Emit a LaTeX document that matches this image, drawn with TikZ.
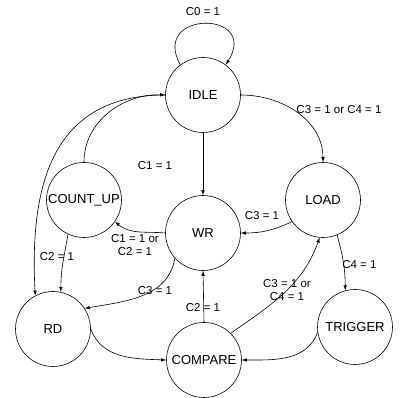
\documentclass[tikz,border=0pt]{standalone}
\usepackage{fontspec}
\setmainfont{Liberation Sans}
\usetikzlibrary{arrows.meta}

\begin{document}
\begin{tikzpicture}[x = 1pt, y = 1pt, line width = 0.6pt, >={Latex[length = 5pt, width = 3.5pt]},
		fsm/.style = {draw, circle, minimum size = 75pt, inner sep = 0pt, font = \fontsize{13}{15}\selectfont},
		lbl/.style = {inner sep = 1pt, font = \fontsize{11.5}{13.5}\selectfont, align = center}]
	
		\useasboundingbox (0, 0) rectangle (400, -398);
		
		\node[fsm] (idle) at (203, -95) {IDLE};
		\node[fsm] (countup) at (84, -200) {COUNT\_UP};
		\node[fsm] (wr) at (203, -233) {WR};
		\node[fsm] (load) at (323, -200) {LOAD};
		\node[fsm] (rd) at (53, -329) {RD};
		\node[fsm] (compare) at (204, -360) {COMPARE};
		\node[fsm] (trigger) at (355, -327) {TRIGGER};
		
		\node[lbl] (c0) at (203, -12) {C0 = 1};
		\node[lbl] (c1) at (155, -166) {C1 = 1};
		\node[lbl] (c3c4a) at (339, -110) {C3 = 1 or C4 = 1};
		\node[lbl] (c1c2) at (135, -245) {C1 = 1 or\\C2 = 1};
		\node[lbl] (c3a) at (262, -216) {C3 = 1};
		\node[lbl] (c2a) at (57, -257) {C2 = 1};
		\node[lbl] (c3b) at (155, -291) {C3 = 1};
		\node[lbl] (c2b) at (203, -308) {C2 = 1};
		\node[lbl] (c3c4b) at (287, -290) {C3 = 1 or\\C4 = 1};
		\node[lbl, anchor = west] (c4) at (341, -265) {C4 = 1};
		
		\draw[->] (idle.127) .. controls (150, -10) and (260, -10) .. (idle.53);
		\draw[->] (idle.east) to[out = 0, in = 90] (load.north);
		\draw[->] (idle) -- (wr);
		\draw[->] (countup.north) to[out = 90, in = 178] (idle.west);
		\draw[->] (idle.west) to[out = 180, in = 93, looseness = 1.2] (rd.118);
		\draw[->] (countup.245) to[out = 260, in = 90] (rd.78);
		\draw[->] (wr.180) to[out = 175, in = -40] (countup.-35);
		\draw[->] (load.215) to[out = 205, in = 0] (wr.east);
		\draw[->] (wr.222) to[out = 260, in = 10] (rd.33);
		\draw[->] (compare.north) -- (wr.south);
		\draw[->] (compare.45) to[out = 35, in = 250] (load.265);
		\draw[->] (load.292) to[out = 285, in = 90] (trigger.105);
		\draw[->] (rd.east) to[out = -70, in = 178] (compare.west);
		\draw[->] (trigger.188) to[out = 250, in = 0] (compare.east);
		
	\end{tikzpicture}
\end{document}
